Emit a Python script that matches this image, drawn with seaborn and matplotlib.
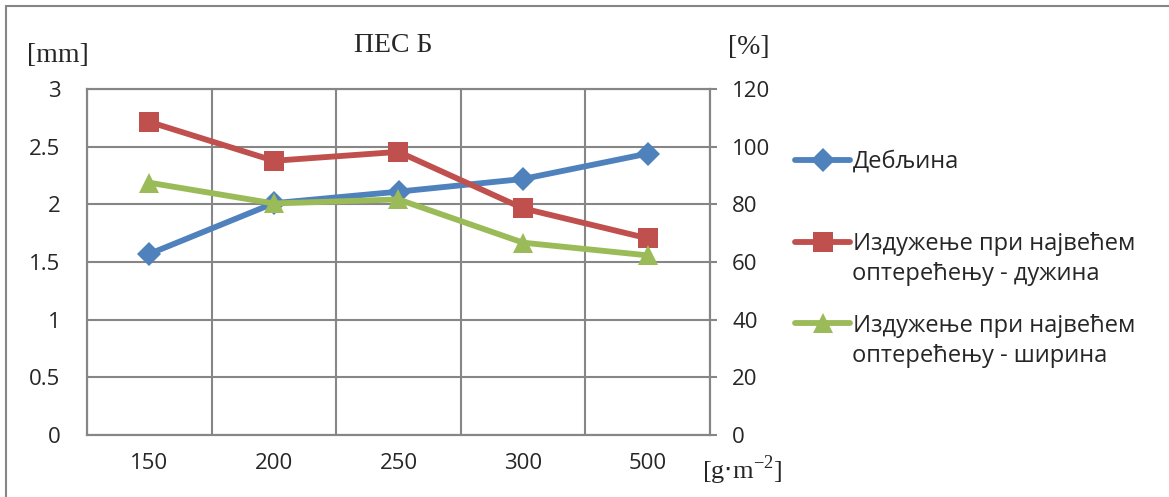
import numpy as np
import pandas as pd
import seaborn as sns
import matplotlib.pyplot as plt
from matplotlib.patches import Rectangle

# ----------------------------------------
# data
# ----------------------------------------
categories = ['150', '200', '250', '300', '500']
debljina_mm = [1.57, 2.01, 2.11, 2.22, 2.44]
izduzenje_duzina = [108.6, 95.1, 98.2, 78.6, 68.2]
izduzenje_sirina = [87.5, 80.3, 81.7, 66.7, 62.3]

labels = ['Дебљина',
          'Издужење при највећем',
          'Издужење при највећем']
labels_second_line = ['оптерећењу - дужина', 'оптерећењу - ширина']

BLUE = '#4F81BD'
RED = '#C0504D'
GREEN = '#9BBB59'
GRID = '#868686'

W, H = 1169, 497

sns.set_theme(style="white")
plt.rcParams['font.family'] = ['Open Sans', 'DejaVu Sans']

df = pd.DataFrame({'cat': categories, 'mm': debljina_mm,
                   'duz': izduzenje_duzina, 'sir': izduzenje_sirina})
df['pos'] = np.arange(len(categories))

fig = plt.figure(figsize=(W / 100, H / 100), dpi=100)
ax1 = fig.add_axes([87 / W, 1 - 435 / H, (710 - 87) / W, (435 - 89) / H])
ax2 = ax1.twinx()

sns.lineplot(data=df, x='pos', y='mm', ax=ax1, color=BLUE, lw=4.2, marker='D',
             markersize=12.5, markeredgewidth=0, label=labels[0], legend=False)
sns.lineplot(data=df, x='pos', y='duz', ax=ax2, color=RED, lw=4.2, marker='s',
             markersize=14, markeredgewidth=0, label=labels[1], legend=False)
sns.lineplot(data=df, x='pos', y='sir', ax=ax2, color=GREEN, lw=4.2, marker='^',
             markersize=15, markeredgewidth=0, label=labels[2], legend=False)

ax1.set_xlim(-0.5, len(categories) - 0.5)
ax1.set_ylim(0, 3)
ax2.set_ylim(0, 120)
ax1.set_yticks(np.arange(0, 3.01, 0.5))
ax1.set_yticklabels(['0', '0.5', '1', '1.5', '2', '2.5', '3'])
ax2.set_yticks(np.arange(0, 121, 20))
ax1.set_xticks(df['pos'])
ax1.set_xticklabels(categories)
ax1.set_xticks(np.arange(-0.5, len(categories), 1), minor=True)

ax1.grid(True, axis='y', color=GRID, lw=1.5)
ax1.grid(True, axis='x', which='minor', color=GRID, lw=1.5)
ax1.grid(False, axis='x', which='major')
ax1.set_xlabel('')
ax1.set_ylabel('')
ax2.set_ylabel('')

ax1.tick_params(axis='x', which='major', length=0, pad=13, labelsize=16)
ax1.tick_params(axis='x', which='minor', length=0)
ax1.tick_params(axis='y', length=0, pad=19, labelsize=16)
ax2.tick_params(axis='y', length=5, width=1.5, color=GRID, direction='out', pad=11, labelsize=16, right=True)

for ax in (ax1, ax2):
    for s in ax.spines.values():
        s.set_color(GRID)
        s.set_linewidth(1.5)

serif = ['Liberation Serif', 'DejaVu Serif']
fig.text(393 / W, 1 - 45 / H, 'ПЕС Б', family=serif, fontsize=20, ha='center', va='center')
fig.text(58 / W, 1 - 55 / H, '[mm]', family=serif, fontsize=20, ha='center', va='center')
fig.text(749 / W, 1 - 47 / H, '[%]', family=serif, fontsize=20, ha='center', va='center')
fig.text(742 / W, 1 - 470 / H, r'[g$\cdot$m$^{\mathregular{-2}}$]', family=serif,
         fontsize=19, ha='center', va='center')

h1, l1 = ax1.get_legend_handles_labels()
h2, l2 = ax2.get_legend_handles_labels()
fig.legend(h1 + h2, l1 + l2, loc='upper left', bbox_to_anchor=(795 / W, 1 - 150 / H),
           frameon=False, fontsize=17, handlelength=2.35, handletextpad=0.1,
           labelspacing=2.45, borderpad=0, borderaxespad=0)
fig.text(852 / W, 1 - 274 / H, labels_second_line[0], fontsize=17, ha='left', va='center')
fig.text(852 / W, 1 - 356 / H, labels_second_line[1], fontsize=17, ha='left', va='center')

fig.patches.append(Rectangle((6 / W, -0.1), 1.2, 1.1 - 6 / H, transform=fig.transFigure,
                             fill=False, edgecolor=GRID, lw=1.5))

fig.savefig('out.png', dpi=100)
